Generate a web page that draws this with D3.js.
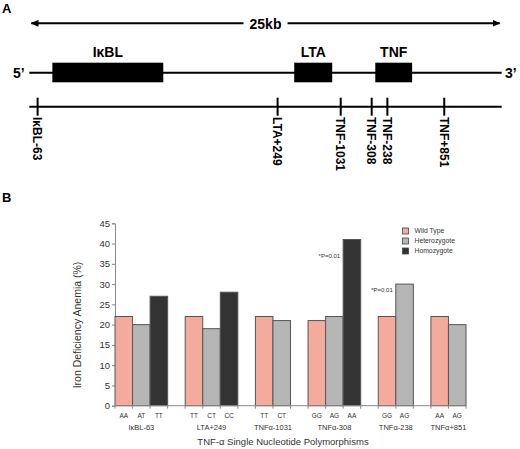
<!DOCTYPE html>
<html>
<head>
<meta charset="utf-8">
<script src="https://cdn.jsdelivr.net/npm/d3@7"></script>
<style>
  body { margin: 0; background: #fff; }
  svg { display: block; font-family: "Liberation Sans", Arial, sans-serif; }
</style>
</head>
<body>
<svg id="chart" width="520" height="449"></svg>
<script>
// ---- panel A : gene map (positions in kb along the 25kb region)
const regionKb = 25;
const genes = ["IκBL", "LTA", "TNF"];
const geneStart = [1.22, 14.02, 18.31];
const geneEnd = [7.09, 16.03, 20.26];
const snpNames = ["IκBL-63", "LTA+249", "TNF-1031", "TNF-308", "TNF-238", "TNF+851"];
const snpKb = [0.44, 13.14, 16.48, 18.12, 18.95, 21.96];

// ---- panel B : bar chart
const groups = ["IκBL-63", "LTA+249", "TNFα-1031", "TNFα-308", "TNFα-238", "TNFα+851"];
const genotypes = [["AA", "AT", "TT"], ["TT", "CT", "CC"], ["TT", "CT"], ["GG", "AG", "AA"], ["GG", "AG"], ["AA", "AG"]];
const anemia = [[22, 20, 27], [22, 19, 28], [22, 21], [21, 22, 41], [22, 30], [22, 20]];
const seriesNames = ["Wild Type", "Heterozygote", "Homozygote"];
const seriesColors = ["#f5ab9c", "#b6b6b6", "#333333"];
const yTicks = [0, 5, 10, 15, 20, 25, 30, 35, 40, 45];
// significance notes: group, genotype index, label height (%)
const notes = [
  { group: 3, idx: 2, at: 37, text: "*P=0.01" },
  { group: 4, idx: 1, at: 28.5, text: "*P=0.01" }
];

const svg = d3.select("#chart");

// ===== Panel A
svg.append("text").attr("x", 2).attr("y", 13)
  .style("font-weight", "bold").style("font-size", "13px").text("A");

const kb = d3.scaleLinear().domain([0, regionKb]).range([29.3, 501.7]);

const defs = svg.append("defs");
defs.append("marker").attr("id", "arr").attr("viewBox", "0 0 10 10")
  .attr("refX", 9).attr("refY", 5).attr("markerWidth", 4).attr("markerHeight", 3.4)
  .attr("orient", "auto-start-reverse").attr("markerUnits", "strokeWidth")
  .attr("preserveAspectRatio", "none")
  .append("path").attr("d", "M0,0L10,5L0,10z").attr("fill", "#000");

const A = svg.append("g");
A.append("line").attr("x1", kb(0) + 2).attr("x2", kb(regionKb) - 2)
  .attr("y1", 23.3).attr("y2", 23.3)
  .attr("stroke", "#000").attr("stroke-width", 2)
  .attr("marker-start", "url(#arr)").attr("marker-end", "url(#arr)");
A.append("rect").attr("x", kb(regionKb / 2) - 22).attr("y", 15).attr("width", 44).attr("height", 16).attr("fill", "#fff");
A.append("text").attr("x", kb(regionKb / 2)).attr("y", 28.5).attr("text-anchor", "middle")
  .style("font-weight", "bold").style("font-size", "14px").text("25kb");

// gene line
A.append("line").attr("x1", kb(0)).attr("x2", kb(regionKb)).attr("y1", 72.7).attr("y2", 72.7)
  .attr("stroke", "#000").attr("stroke-width", 2);
A.append("text").attr("x", 13).attr("y", 78).style("font-weight", "bold").style("font-size", "14px").text("5’");
A.append("text").attr("x", 505).attr("y", 78).style("font-weight", "bold").style("font-size", "14px").text("3’");

A.selectAll("rect.gene").data(genes).enter().append("rect").attr("class", "gene")
  .attr("x", (d, i) => kb(geneStart[i]))
  .attr("width", (d, i) => kb(geneEnd[i]) - kb(geneStart[i]))
  .attr("y", 62.7).attr("height", 19.6).attr("fill", "#000");
A.selectAll("text.gene").data(genes).enter().append("text").attr("class", "gene")
  .attr("x", (d, i) => kb((geneStart[i] + geneEnd[i]) / 2))
  .attr("y", 57).attr("text-anchor", "middle")
  .style("font-weight", "bold").style("font-size", "14px").text(d => d);

// SNP line
A.append("line").attr("x1", kb(0)).attr("x2", kb(regionKb)).attr("y1", 106.7).attr("y2", 106.7)
  .attr("stroke", "#000").attr("stroke-width", 2);
const snp = A.selectAll("g.snp").data(snpNames).enter().append("g").attr("class", "snp")
  .attr("transform", (d, i) => `translate(${kb(snpKb[i])},0)`);
snp.append("line").attr("y1", 97.7).attr("y2", 115.7).attr("stroke", "#000").attr("stroke-width", 2);
snp.append("text").attr("transform", "translate(0,117) rotate(90)")
  .attr("dy", "0.36em")
  .style("font-weight", "bold").style("font-size", "12px").text(d => d);

// ===== Panel B
svg.append("text").attr("x", 2).attr("y", 202)
  .style("font-weight", "bold").style("font-size", "13px").text("B");

// one band per bar, with an empty band between SNP groups
const slots = [];
genotypes.forEach((gs, g) => {
  gs.forEach((gt, j) => slots.push({ id: g + "-" + j, group: g, idx: j, gt: gt, value: anemia[g][j] }));
  if (g < genotypes.length - 1) slots.push({ id: "gap" + g, gap: true });
});

const x = d3.scaleBand().domain(slots.map(d => d.id)).range([115, 466]).padding(0);
const y = d3.scaleLinear().domain([0, 45]).range([405.7, 223.3]);

const B = svg.append("g");

// y axis
const yAxis = B.append("g").attr("transform", "translate(115,0)")
  .call(d3.axisLeft(y).tickValues(yTicks).tickSize(3).tickPadding(2));
yAxis.select(".domain").attr("stroke", "#888");
yAxis.selectAll(".tick line").attr("stroke", "#888");
yAxis.selectAll("text").attr("fill", "#333").style("font-size", "9.5px")
  .style("font-family", "\"Liberation Sans\", Arial, sans-serif");

// bars
const bars = slots.filter(d => !d.gap);
B.selectAll("rect.bar").data(bars).enter().append("rect").attr("class", "bar")
  .attr("x", d => x(d.id))
  .attr("width", x.bandwidth())
  .attr("y", d => y(d.value))
  .attr("height", d => y(0) - y(d.value))
  .attr("fill", d => seriesColors[d.idx])
  .attr("stroke", "#555").attr("stroke-width", 1);

// x axis with small ticks at band boundaries
B.append("line").attr("x1", 115).attr("x2", 466).attr("y1", y(0)).attr("y2", y(0))
  .attr("stroke", "#888");
const bounds = slots.map(d => x(d.id)).concat([x.range()[1]]);
B.selectAll("line.xt").data(bounds).enter().append("line").attr("class", "xt")
  .attr("x1", d => d).attr("x2", d => d).attr("y1", y(0)).attr("y2", y(0) + 3)
  .attr("stroke", "#888");

// genotype labels
B.selectAll("text.gt").data(bars).enter().append("text").attr("class", "gt")
  .attr("x", d => x(d.id) + x.bandwidth() / 2).attr("y", 418)
  .attr("text-anchor", "middle").attr("fill", "#333").style("font-size", "6.5px")
  .text(d => d.gt);

// group labels
B.selectAll("text.grp").data(groups).enter().append("text").attr("class", "grp")
  .attr("x", (d, g) => {
    const first = x(g + "-0");
    const last = x(g + "-" + (genotypes[g].length - 1)) + x.bandwidth();
    return (first + last) / 2;
  })
  .attr("y", 430).attr("text-anchor", "middle").attr("fill", "#333").style("font-size", "7.5px")
  .text(d => d);

// axis titles
B.append("text").attr("x", 283).attr("y", 445).attr("text-anchor", "middle")
  .attr("fill", "#333").style("font-size", "9.5px").text("TNF-α Single Nucleotide Polymorphisms");
B.append("text").attr("transform", "translate(81,325) rotate(-90)").attr("text-anchor", "middle")
  .attr("fill", "#333").style("font-size", "10.5px").text("Iron Deficiency Anemia (%)");

// significance notes
B.selectAll("text.note").data(notes).enter().append("text").attr("class", "note")
  .attr("x", d => x(d.group + "-" + d.idx) - 3)
  .attr("y", d => y(d.at)).attr("dy", "0.35em").attr("text-anchor", "end")
  .attr("fill", "#333").style("font-size", "6px").text(d => d.text);

// legend
const leg = B.selectAll("g.leg").data(seriesNames).enter().append("g").attr("class", "leg")
  .attr("transform", (d, i) => `translate(402.5,${228 + i * 10})`);
leg.append("rect").attr("width", 6).attr("height", 6)
  .attr("fill", (d, i) => seriesColors[i]).attr("stroke", "#444").attr("stroke-width", 0.8);
leg.append("text").attr("x", 12).attr("y", 3).attr("dy", "0.35em")
  .attr("fill", "#333").style("font-size", "6.8px").text(d => d);
</script>
</body>
</html>
